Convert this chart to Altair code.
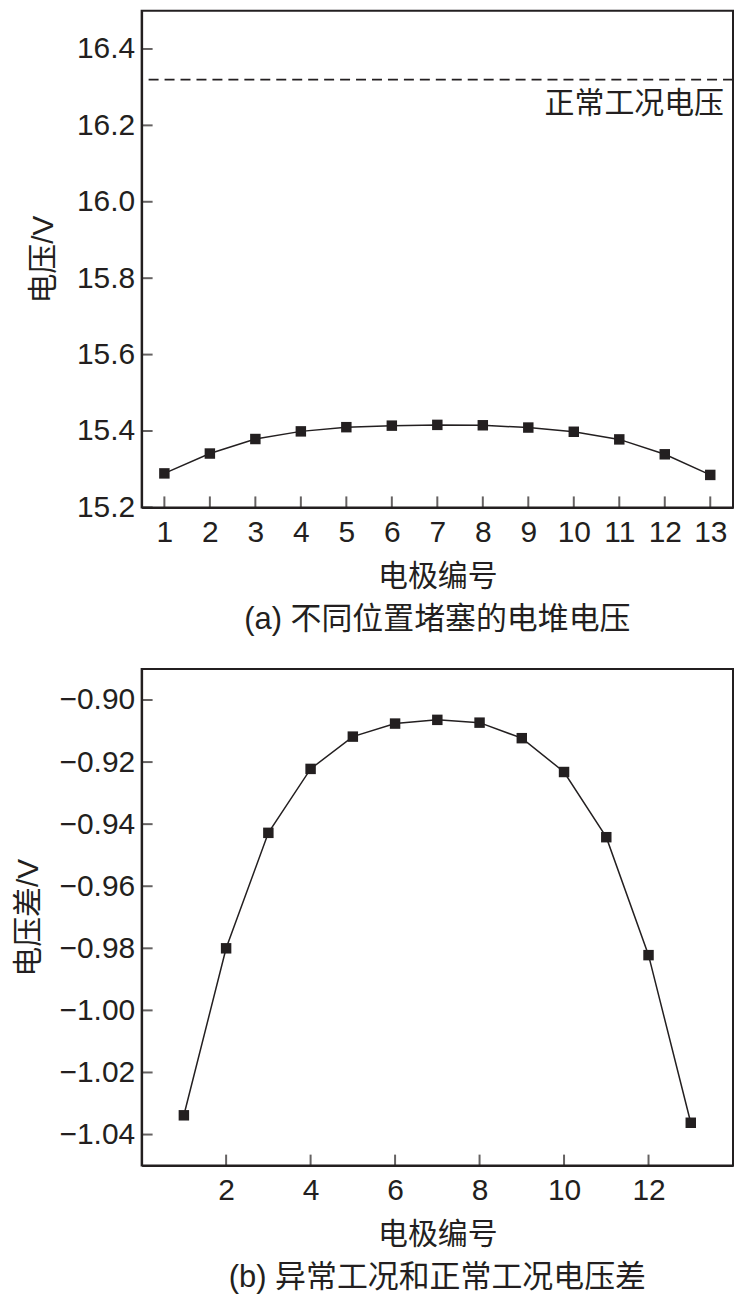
import altair as alt
import pandas as pd

# ---- data ----
electrodes = list(range(1, 14))
stack_voltage = [15.289, 15.341, 15.379, 15.399, 15.410, 15.414, 15.416,
                 15.415, 15.409, 15.398, 15.378, 15.339, 15.285]
voltage_diff = [-1.0338, -0.9800, -0.9428, -0.9222, -0.9118, -0.9076, -0.9064,
                -0.9073, -0.9123, -0.9232, -0.9442, -0.9822, -1.0362]
normal_voltage = 16.32
normal_label = "正常工况电压"

top_x_ticks = list(range(1, 14))
top_y_ticks = [15.2, 15.4, 15.6, 15.8, 16.0, 16.2, 16.4]
bottom_x_ticks = [2, 4, 6, 8, 10, 12]
bottom_y_ticks = [-1.04, -1.02, -1.00, -0.98, -0.96, -0.94, -0.92, -0.90]

top_x_domain = [0.5, 13.5]
top_y_domain = [15.2, 16.5]
bottom_x_domain = [0, 14]
bottom_y_domain = [-1.05, -0.89]

x_title = "电极编号"
top_y_title = "电压/V"
bottom_y_title = "电压差/V"
top_caption = "(a) 不同位置堵塞的电堆电压"
bottom_caption = "(b) 异常工况和正常工况电压差"

# ---- styling ----
INK = "#231f20"
NUM_FONT = "Liberation Sans, Arial, sans-serif"
TXT_FONT = "Liberation Sans, Noto Sans CJK SC, sans-serif"
CJK_FONT = "Noto Sans CJK SC, sans-serif"
W, H = 593, 498
TICK = 11


def main_axis(values, title, fmt, orient, label_pad, title_pad):
    return alt.Axis(values=values, orient=orient, ticks=False, grid=False,
                    domainColor=INK, domainWidth=2, format=fmt,
                    labelFont=NUM_FONT, labelFontSize=30, labelColor=INK,
                    labelPadding=label_pad, labelFlush=False, labelOverlap=False,
                    title=title, titleFont=TXT_FONT, titleFontSize=30,
                    titleFontWeight="normal", titleColor=INK,
                    titlePadding=title_pad)


def panel(y_values, xs_ticks, ys_ticks, x_dom, y_dom, y_title, y_fmt,
          caption, y_title_pad, with_ref):
    df = pd.DataFrame({"electrode": electrodes, "value": y_values})
    xs = alt.Scale(domain=x_dom, nice=False, zero=False)
    ys = alt.Scale(domain=y_dom, nice=False, zero=False)
    base = alt.Chart(df)
    line = base.mark_line(color=INK, strokeWidth=1.5).encode(
        x=alt.X("electrode:Q", scale=xs,
                axis=main_axis(xs_ticks, x_title, "d", "bottom", 10, 14)),
        y=alt.Y("value:Q", scale=ys,
                axis=main_axis(ys_ticks, y_title, y_fmt, "left", 7, y_title_pad)),
    )
    pts = base.mark_point(shape="square", filled=True, size=110, color=INK,
                          opacity=1).encode(
        x=alt.X("electrode:Q", scale=xs),
        y=alt.Y("value:Q", scale=ys),
    )
    # inward tick marks, placed through the scales from the tick arrays
    xt = alt.Chart(pd.DataFrame({"t": xs_ticks})).mark_tick(
        color=INK, thickness=2, size=TICK, orient="vertical").encode(
        x=alt.X("t:Q", scale=xs), y=alt.value(H - TICK / 2))
    yt = alt.Chart(pd.DataFrame({"t": ys_ticks})).mark_tick(
        color=INK, thickness=2, size=TICK, orient="horizontal").encode(
        y=alt.Y("t:Q", scale=ys), x=alt.value(TICK / 2))
    layers = [line, pts, xt, yt]
    if with_ref:
        ref = pd.DataFrame({"v": [normal_voltage], "label": [normal_label]})
        rule = alt.Chart(ref).mark_rule(color=INK, strokeWidth=1.8,
                                        strokeDash=[10, 6]).encode(
            y=alt.Y("v:Q", scale=ys))
        txt = alt.Chart(ref).mark_text(align="right", baseline="middle", dx=-9,
                                       dy=25, font=CJK_FONT, fontSize=30,
                                       color=INK).encode(
            x=alt.X(datum=x_dom[1], scale=xs),
            y=alt.Y("v:Q", scale=ys),
            text="label:N")
        layers += [rule, txt]
    return alt.layer(*layers).properties(
        width=W, height=H,
        title=alt.TitleParams(text=caption, orient="bottom", anchor="middle",
                              font=TXT_FONT, fontSize=31, fontWeight="normal",
                              color=INK, offset=14),
    )


top = panel(stack_voltage, top_x_ticks, top_y_ticks, top_x_domain, top_y_domain,
            top_y_title, ".1f", top_caption, 18, True)
bottom = panel(voltage_diff, bottom_x_ticks, bottom_y_ticks, bottom_x_domain,
               bottom_y_domain, bottom_y_title, ".2f", bottom_caption, 16, False)

chart = alt.vconcat(top, bottom, spacing=32, background="white",
                    padding={"left": 4, "top": 0, "right": 0, "bottom": 0}
                    ).configure_view(stroke=INK, strokeWidth=2)

chart.save("out.html", embed_options={"renderer": "svg", "actions": False})
